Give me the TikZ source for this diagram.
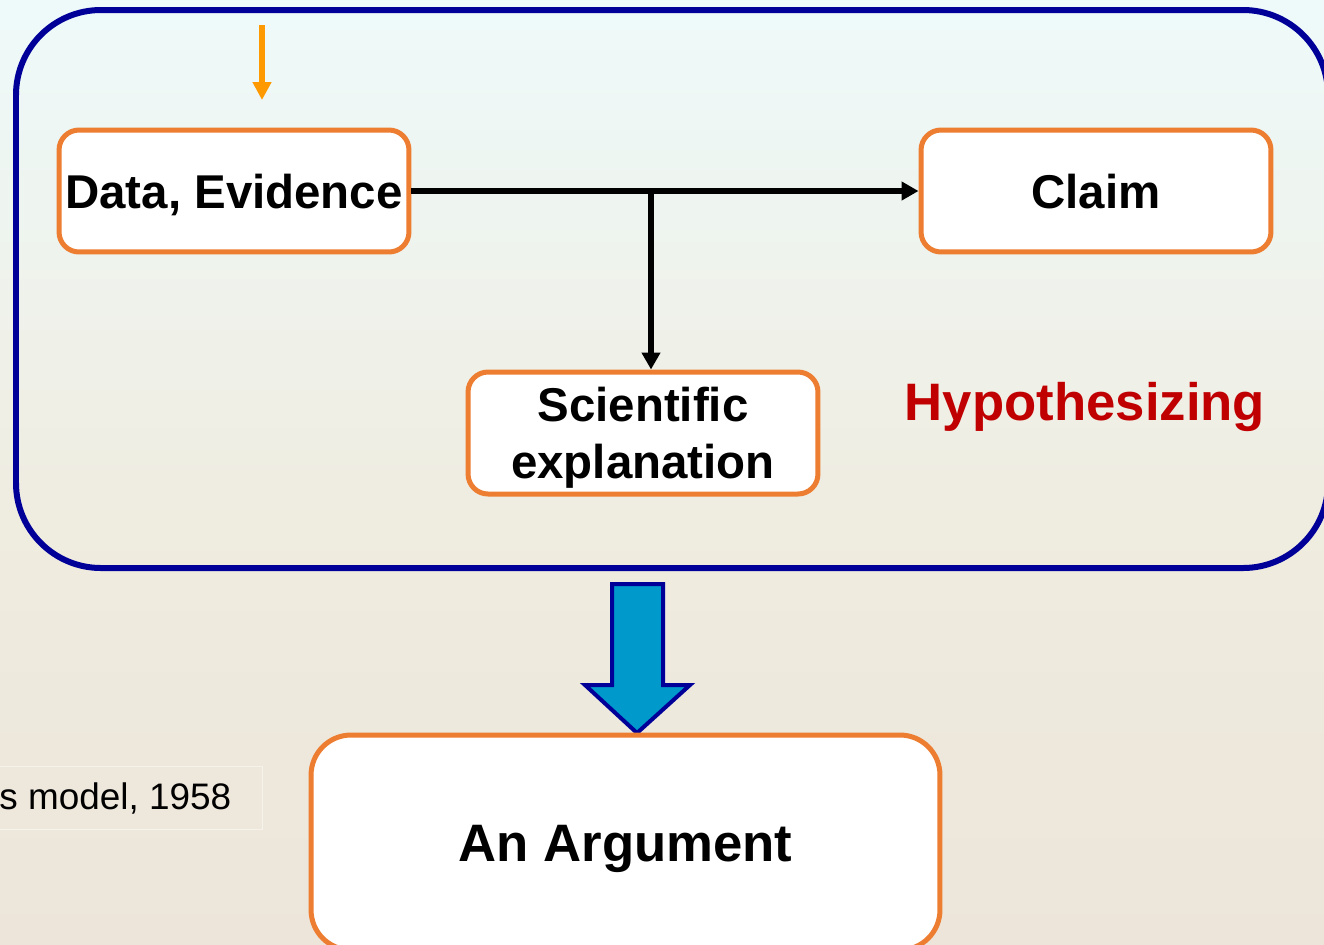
\documentclass[tikz,border=0pt]{standalone}
\usepackage{fontspec}
\setmainfont{Liberation Sans}
\usepackage{tikz}
\usetikzlibrary{arrows.meta}
\definecolor{frame}{RGB}{0,0,153}
\definecolor{boxline}{RGB}{237,125,49}
\definecolor{feed}{RGB}{255,153,0}
\definecolor{bigfill}{RGB}{0,153,204}
\definecolor{hypred}{RGB}{192,0,0}
\definecolor{bgtop}{RGB}{238,250,250}
\definecolor{bgmid}{RGB}{239,236,224}
\definecolor{bgbot}{RGB}{237,229,217}
\tikzset{
  part/.style={draw=boxline, line width=0.1cm, rounded corners=0.4cm, fill=white, align=center,
    inner sep=0pt, minimum width=7cm, minimum height=2.44cm, font=\bfseries\fontsize{27}{32}\selectfont,
    text height=0.68cm, text depth=0pt},
  link/.style={draw=black, line width=0.11cm, -{Triangle[length=3.4mm,width=3.6mm]}},
  feedlink/.style={draw=feed, line width=0.11cm, -{Triangle[length=3.6mm,width=3.6mm]}},
  outer/.style={draw=frame, line width=0.12cm, rounded corners=1.7cm},
  bigarrow/.style={draw=frame, line width=0.08cm, fill=bigfill, line join=miter},
  note/.style={draw=bgbot!50!white, line width=0.03cm, font=\fontsize{21}{25}\selectfont,
    inner xsep=0.62cm, minimum height=1.26cm}
}
\begin{document}
\begin{tikzpicture}[x=0.02cm,y=-0.02cm]
  % background
  \shade[top color=bgtop, bottom color=bgmid] (0,0) rectangle (1324,520);
  \shade[top color=bgmid, bottom color=bgbot] (0,520) rectangle (1324,944);
  \useasboundingbox (0,0) rectangle (1324,944);
  % hypothesizing frame
  \draw[outer] (16,10) rectangle (1328,568);
  \node[part] (data) at (234,191) {Data, Evidence};
  \node[part] (claim) at (1096,191) {Claim};
  \node[part, text height=1.805cm] (sci) at (643,433) {Scientific\\explanation};
  \node[font=\bfseries\fontsize{30}{36}\selectfont, text=hypred, text height=0.76cm, text depth=0pt]
    (hyp) at (1085,401) {Hypothesizing};
  \coordinate (in1) at (262,25);
  \coordinate (in2) at (262,100);
  \draw[feedlink] (in1) -- (in2);
  \coordinate (split) at (651,191);
  \draw[link] (data.east) -- (claim.west);
  \draw[link] (split) -- (split |- sci.north);
  % result
  \draw[bigarrow] (612,584) -- (663,584) -- (663,685) -- (690,685) -- (637,733)
    -- (585,685) -- (612,685) -- cycle;
  \node[part, minimum width=12.58cm, minimum height=4.3cm, rounded corners=0.8cm,
    font=\bfseries\fontsize{30}{36}\selectfont, text height=0.76cm] (arg) at (625.5,842.5) {An Argument};
  \node[note, anchor=east] (src) at (263,798) {s model, 1958};
\end{tikzpicture}
\end{document}
